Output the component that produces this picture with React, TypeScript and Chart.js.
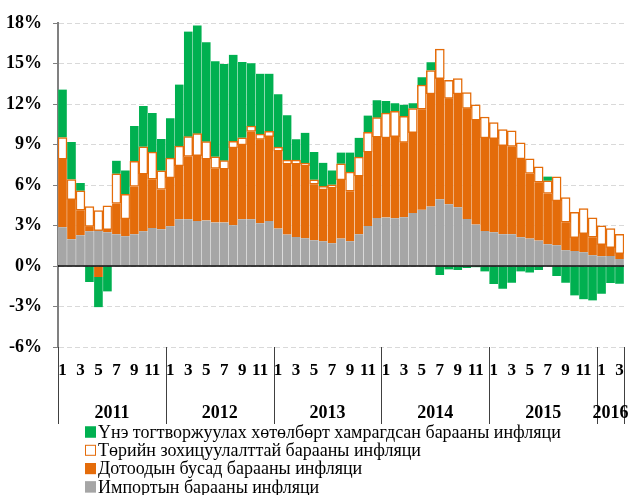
import React, { useEffect, useRef } from "react";
import { Chart, registerables } from "chart.js";

Chart.register(...registerables);

const YEARS = ["2011", "2012", "2013", "2014", "2015", "2016"];
const MONTHS: number[] = [];
for (let y = 0; y < 5; y++) for (let m = 1; m <= 12; m++) MONTHS.push(m);
MONTHS.push(1, 2, 3);

const IMPORT = [2.87, 1.98, 2.28, 2.57, 2.62, 2.5, 2.35, 2.2, 2.35, 2.57, 2.82, 2.72, 2.94, 3.46, 3.46, 3.34, 3.37, 3.22, 3.22, 3.02, 3.46, 3.46, 3.17, 3.34, 2.77, 2.33, 2.15, 2.05, 1.91, 1.83, 1.68, 2.03, 1.83, 2.35, 2.97, 3.56, 3.59, 3.54, 3.61, 3.93, 4.16, 4.4, 4.95, 4.58, 4.36, 3.49, 3.07, 2.6, 2.5, 2.35, 2.35, 2.13, 2.03, 1.88, 1.61, 1.53, 1.16, 1.11, 1.01, 0.79, 0.72, 0.74, 0.52];
const DOMESTIC = [5.05, 2.94, 1.85, 0.37, -0.82, 0.2, 2.28, 1.29, 3.54, 4.24, 3.61, 2.95, 3.59, 3.96, 4.66, 4.83, 4.55, 4.01, 3.96, 5.72, 5.5, 6.51, 6.21, 6.24, 5.74, 5.22, 5.4, 5.37, 4.15, 3.81, 4.11, 4.35, 3.71, 4.31, 5.47, 5.99, 5.89, 6.04, 5.55, 5.94, 7.45, 8.34, 8.93, 7.84, 8.38, 8.19, 7.74, 6.88, 6.93, 6.56, 6.51, 5.81, 4.82, 4.33, 3.76, 3.3, 2.08, 0.99, 1.39, 1.34, 0.86, 0.62, 0.4];
const REGULATED = [1.6, 1.49, 1.44, 1.46, 1.49, 1.75, 2.2, 1.81, 1.86, 2.02, 2.01, 1.38, 1.46, 1.46, 1.46, 1.63, 1.29, 0.86, 0.62, 0.49, 0.54, 0.4, 0.39, 0.39, 0.3, 0.29, 0.29, 0.2, 0.32, 0.27, 0.22, 1.19, 1.41, 1.41, 1.46, 1.44, 1.85, 1.88, 1.93, 1.79, 1.8, 1.74, 2.18, 1.34, 1.14, 1.16, 1.12, 1.56, 1.19, 1.19, 1.16, 1.19, 1.09, 1.14, 0.94, 1.78, 1.83, 1.88, 1.86, 1.43, 1.39, 1.41, 1.43];
const PROGRAM = [3.55, 2.77, 0.57, -1.19, -2.23, -1.88, 0.97, 1.78, 2.62, 3.02, 2.89, 2.35, 2.95, 4.56, 7.79, 8.02, 7.37, 7.08, 7.17, 6.41, 5.62, 4.65, 4.48, 4.28, 3.91, 3.32, 1.54, 2.25, 2.06, 1.74, 1.07, 0.84, 1.46, 1.43, 1.24, 1.28, 0.89, 0.59, 0.86, 0.39, 0.57, 0.62, -0.67, -0.25, -0.3, -0.15, -0.1, -0.4, -1.34, -1.68, -1.24, -0.4, -0.49, -0.3, 0.32, -0.74, -1.24, -2.18, -2.47, -2.55, -2.05, -1.26, -1.31];

const LABELS = [
  "Үнэ тогтворжуулах хөтөлбөрт хамрагдсан барааны инфляци",
  "Төрийн зохицуулалттай барааны инфляци",
  "Дотоодын бусад барааны инфляци",
  "Импортын барааны инфляци",
];

const GREEN = "#00b050";
const ORANGE = "#e46c0a";
const GREY = "#a6a6a6";
const SERIF = "'Liberation Serif', 'Times New Roman', serif";

const extras = {
  id: "extras",
  afterDatasetsDraw(chart: any) {
    const { ctx, chartArea } = chart;
    const y = chart.scales.y;
    const y0 = y.getPixelForValue(0);
    ctx.save();
    ctx.strokeStyle = "#000";
    ctx.lineWidth = 1.5;
    ctx.beginPath();
    ctx.moveTo(chartArea.left, y0);
    ctx.lineTo(chartArea.right, y0);
    ctx.stroke();
    ctx.restore();
  },
  afterDraw(chart: any) {
    const { ctx, chartArea } = chart;
    const x = chart.scales.x;
    const n = MONTHS.length;
    const step = (chartArea.right - chartArea.left) / n;
    ctx.save();
    ctx.strokeStyle = "#404040";
    ctx.lineWidth = 1;
    const bounds: number[] = [];
    for (let k = 0; k <= YEARS.length; k++) {
      const idx = Math.min(k * 12, n);
      const px = idx < n ? x.getPixelForValue(idx) - step / 2 : x.getPixelForValue(n - 1) + step / 2;
      bounds.push(px);
      ctx.beginPath();
      ctx.moveTo(Math.round(px) + 0.5, chartArea.bottom);
      ctx.lineTo(Math.round(px) + 0.5, chartArea.bottom + 77);
      ctx.stroke();
    }
    ctx.fillStyle = "#000";
    ctx.font = `bold 18px ${SERIF}`;
    ctx.textAlign = "center";
    ctx.textBaseline = "middle";
    YEARS.forEach((yr, k) => {
      ctx.fillText(yr, (bounds[k] + bounds[k + 1]) / 2, chartArea.bottom + 66);
    });
    // legend
    const colors = [
      { fill: GREEN, stroke: GREEN },
      { fill: "#fff", stroke: ORANGE },
      { fill: ORANGE, stroke: ORANGE },
      { fill: GREY, stroke: GREY },
    ];
    ctx.font = `18px ${SERIF}`;
    ctx.textAlign = "left";
    LABELS.forEach((lbl, i) => {
      const cy = 432 + i * 18.3;
      ctx.fillStyle = colors[i].fill;
      ctx.fillRect(85, cy - 5.5, 11, 11);
      ctx.strokeStyle = colors[i].stroke;
      ctx.lineWidth = 1;
      ctx.strokeRect(85.5, cy - 5, 10, 10);
      ctx.fillStyle = "#000";
      ctx.fillText(lbl, 98, cy + 1);
    });
    ctx.restore();
  },
};

export default function App() {
  const ref = useRef<HTMLCanvasElement>(null);
  useEffect(() => {
    if (!ref.current) return;
    const sep = "rgba(255,255,255,0.55)";
    const sideBorder = { left: 0.5, right: 0.5, top: 0, bottom: 0 };
    const chart = new Chart(ref.current, {
      type: "bar",
      data: {
        labels: MONTHS.map(String),
        datasets: [
          { label: LABELS[3], data: IMPORT, backgroundColor: GREY, borderColor: sep, borderWidth: sideBorder as any, borderSkipped: false as any },
          { label: LABELS[2], data: DOMESTIC, backgroundColor: ORANGE, borderColor: sep, borderWidth: sideBorder as any, borderSkipped: false as any },
          { label: LABELS[1], data: REGULATED, backgroundColor: "#ffffff", borderColor: ORANGE, borderWidth: 1.5, borderSkipped: false as any },
          { label: LABELS[0], data: PROGRAM, backgroundColor: GREEN, borderColor: "rgba(255,255,255,0.4)", borderWidth: sideBorder as any, borderSkipped: false as any },
        ],
      },
      options: {
        animation: false,
        responsive: false,
        maintainAspectRatio: false,
        layout: { padding: { top: 23, right: 5, left: 0, bottom: 0 } },
        datasets: { bar: { categoryPercentage: 1, barPercentage: 1 } },
        plugins: { legend: { display: false }, tooltip: { enabled: false } },
        scales: {
          x: {
            stacked: true,
            grid: { display: false, drawTicks: false },
            border: { display: false },
            ticks: {
              autoSkip: false,
              maxRotation: 0,
              minRotation: 0,
              padding: 13,
              color: "#000",
              font: { family: SERIF, size: 17, weight: "bold" },
              callback: (_v: any, i: number) => (MONTHS[i] % 2 === 1 ? String(MONTHS[i]) : ""),
            },
            afterFit: (s: any) => {
              s.height = 148;
              s.paddingLeft = 0;
              s.paddingRight = 0;
            },
          },
          y: {
            stacked: true,
            min: -6,
            max: 18,
            ticks: {
              stepSize: 3,
              padding: 11,
              color: "#000",
              font: { family: SERIF, size: 18, weight: "bold" },
              callback: (v: any) => `${v}%`,
            },
            grid: { color: "#d9d9d9", tickColor: "#808080", tickLength: 5, lineWidth: 1 },
            border: { color: "#808080", width: 2, dash: [5, 3] },
            afterFit: (s: any) => {
              s.width = 58;
            },
          },
        },
      },
      plugins: [extras],
    });
    return () => chart.destroy();
  }, []);
  return (
    <div style={{ position: "fixed", left: 0, top: 0, width: 629, height: 495, background: "#fff" }}>
      <canvas ref={ref} width={629} height={495} style={{ display: "block" }} />
    </div>
  );
}
